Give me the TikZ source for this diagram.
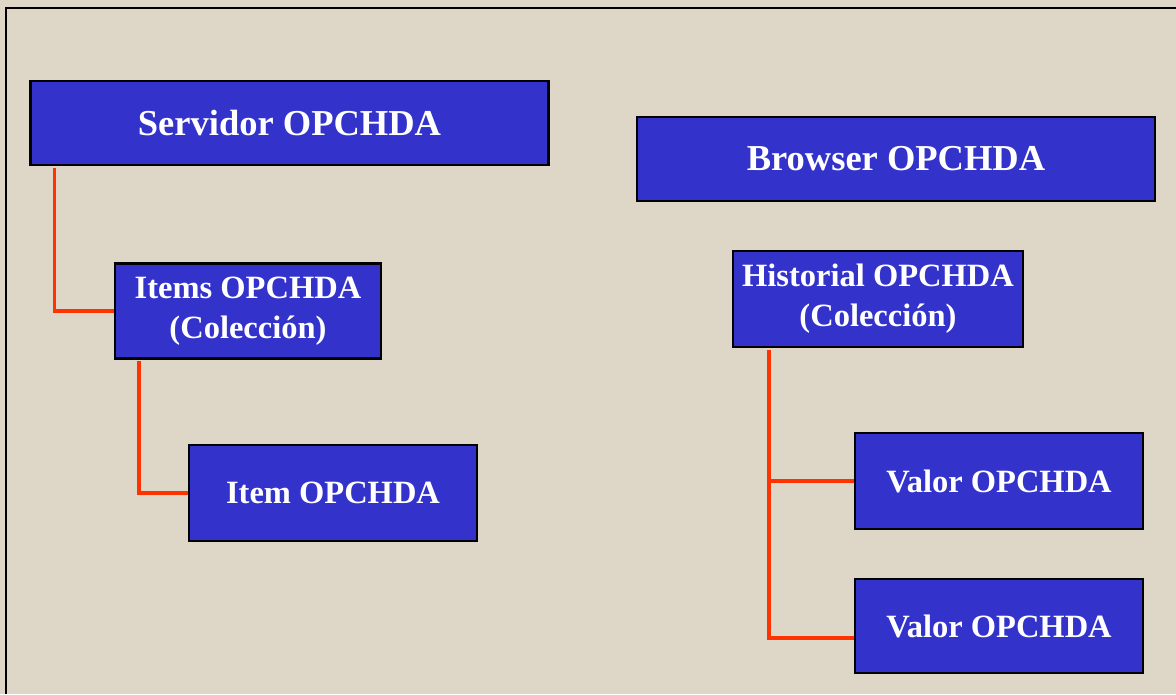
\documentclass[tikz,border=0pt]{standalone}
\usepackage{fontspec}
\setmainfont{Liberation Serif}
\usepackage{tikz}
\usetikzlibrary{calc}

\definecolor{fondo}{RGB}{222,214,199}
\definecolor{azulcaja}{RGB}{51,51,204}
\definecolor{rojolinea}{RGB}{255,51,0}

\tikzset{
  caja/.style={draw=black, line width=2.5pt, fill=azulcaja, text=white, align=center,
    inner sep=0pt, font=\fontsize{32.5}{40}\selectfont\bfseries},
  cajagrande/.style={caja, font=\fontsize{36.5}{42}\selectfont\bfseries},
  enlace/.style={draw=rojolinea, line width=3.5pt}
}

\begin{document}
\begin{tikzpicture}[x=1pt, y=-1pt]
\useasboundingbox (0,0) rectangle (1176,694);
\fill[fondo] (0,0) rectangle (1176,694);
\draw[line width=2.5pt] (6,694) -- (6,8) -- (1176,8);

\node[cajagrande, minimum width=518pt, minimum height=84pt] (srv) at (289.5,123) {Servidor OPCHDA};
\node[cajagrande, minimum width=518pt, minimum height=84pt] (brw) at (896,159) {Browser OPCHDA};
\node[caja, minimum width=266pt, minimum height=95pt] (items) at (248,311) {Items OPCHDA\\(Colección)};
\node[caja, minimum width=288pt, minimum height=96pt] (item) at (333,493) {Item OPCHDA};
\node[caja, minimum width=290pt, minimum height=96pt] (hist) at (878,299) {Historial OPCHDA\\(Colección)};
\node[caja, minimum width=288pt, minimum height=96pt] (val1) at (999,481) {Valor OPCHDA};
\node[caja, minimum width=288pt, minimum height=94pt] (val2) at (999,626) {Valor OPCHDA};

\draw[enlace] ($(srv.south west)+(25,1.5)$) |- (items.west);
\draw[enlace] ($(items.south west)+(25,1.5)$) |- (item.west);
\draw[enlace] ($(hist.south west)+(37,1.5)$) |- (val1.west);
\draw[enlace] ($(hist.south west)+(37,1.5)$) |- ($(val2.west)+(0,12)$);
\end{tikzpicture}
\end{document}
